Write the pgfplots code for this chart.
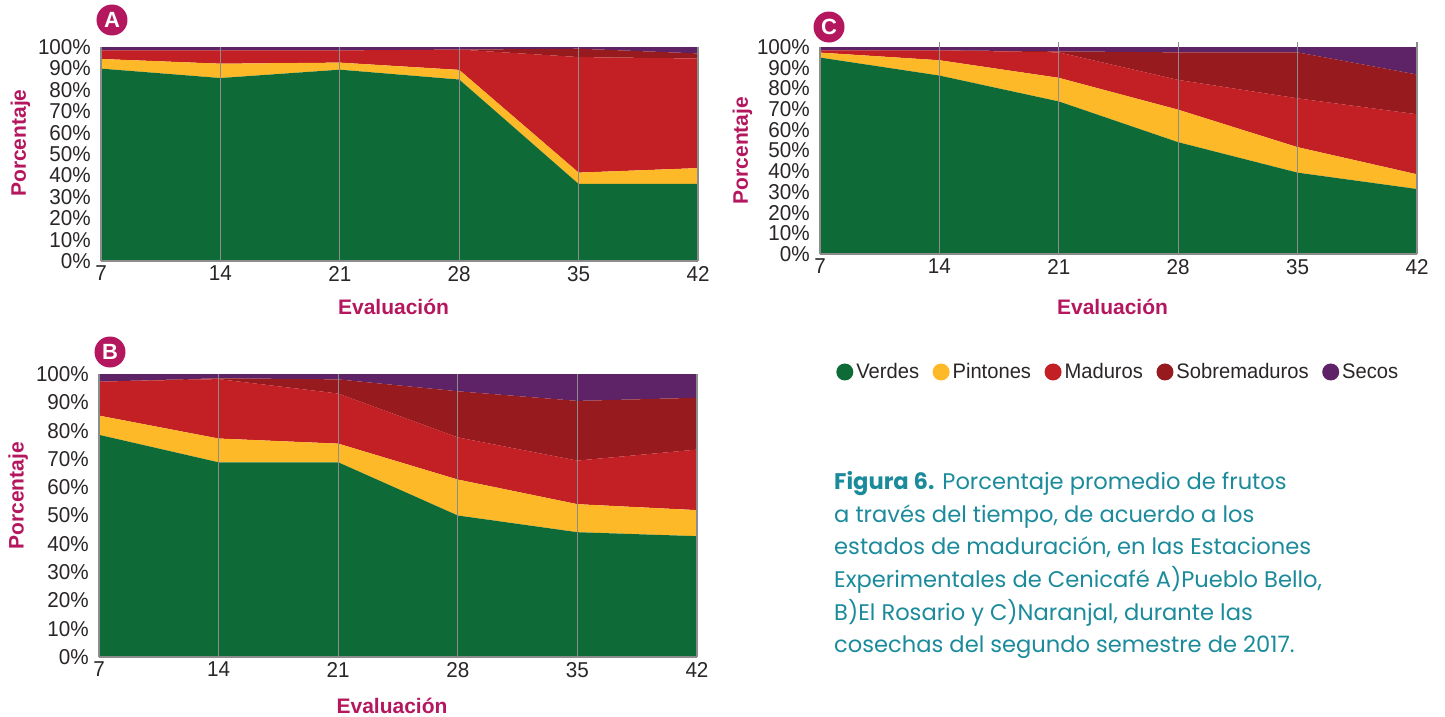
\documentclass[border=0pt]{standalone}
\usepackage{pgfplots}
\pgfplotsset{compat=1.18}
\usepackage{pgfplotstable}
\usepackage{fontspec}
\setmainfont{Liberation Sans}
\newfontfamily\tickfont{Liberation Sans}[FakeStretch=0.96]
\newfontfamily\capfont{Poppins}
\definecolor{cverde}{HTML}{0E6B38}
\definecolor{cpinton}{HTML}{FDB927}
\definecolor{cmaduro}{HTML}{C32026}
\definecolor{csobre}{HTML}{961A1E}
\definecolor{cseco}{HTML}{5D2366}
\definecolor{cmag}{HTML}{B5175F}
\definecolor{cteal}{HTML}{1B8B9B}
\definecolor{cgrid}{HTML}{8C8C8C}
\definecolor{ctick}{HTML}{2A2627}

\pgfplotstableread{
x G P M S Sec
7 89.9 4.5 4.0 0 1.6
14 85.5 6.7 6.2 0 1.6
21 89.4 3.3 5.7 0 1.6
28 84.8 4.5 9.5 0 1.2
35 36.0 5.3 54.0 3.9 0.8
42 36.0 7.4 51.2 2.4 3.0
}\tabA
\pgfplotstableread{
x G P M S Sec
7 78.5 6.8 12.0 0 2.7
14 68.8 8.4 21.0 0.3 1.5
21 68.8 6.6 17.7 5.0 1.9
28 50.0 12.7 14.9 16.3 6.1
35 44.1 9.9 15.4 21.1 9.5
42 42.7 9.2 21.4 18.3 8.4
}\tabB
\pgfplotstableread{
x G P M S Sec
7 94.9 2.4 1.1 0 1.6
14 86.2 7.4 4.8 0 1.6
21 73.7 11.4 12.3 0.5 2.1
28 54.0 15.7 14.4 13.3 2.6
35 39.3 12.3 23.6 22.2 2.6
42 31.4 7.1 29.0 19.2 13.3
}\tabC

\pgfplotsset{
  panel/.style={
    scale only axis,
    xmin=7, xmax=42, ymin=0, ymax=100,
    stack plots=y,
    axis on top,
    axis x line=bottom, axis y line=left,
    axis line style={draw=cgrid, line width=1.2pt, -},
    xtick={7,14,21,28,35,42},
    xticklabels={7,14,21,28,35,42},
    ytick={0,10,20,30,40,50,60,70,80,90,100},
    yticklabels={0\%,10\%,20\%,30\%,40\%,50\%,60\%,70\%,80\%,90\%,100\%},
    xmajorgrids, major grid style={draw=cgrid, line width=1.2pt},
    major tick length=0pt,
    tick label style={font=\tickfont\fontsize{21.5}{21.5}\selectfont, text=ctick},
    yticklabel style={inner sep=2pt, xshift=-8pt},
    xticklabel style={inner sep=2pt, yshift=-3pt},
    xlabel={Evaluación}, ylabel={Porcentaje},
    label style={font=\bfseries\fontsize{21}{21}\selectfont, text=cmag},
    legend image code/.code={\fill[##1] (0pt,0pt) circle (8.5pt);},
    clip=false,
  },
}
\tikzset{
  tag/.style={circle, fill=cmag, text=white, inner sep=0pt, minimum size=31pt,
    font=\bfseries\fontsize{22}{22}\selectfont},
}

\begin{document}
\begin{tikzpicture}[x=1pt,y=1pt]
\path[use as bounding box] (0,0) rectangle (1445,-717);

% Panel A
\begin{axis}[panel, at={(101pt,-261pt)}, anchor=south west, width=597pt, height=214pt,
  xlabel style={at={(rel axis cs:0.49,-0.215)}, anchor=center},
  ylabel style={at={(rel axis cs:-0.135,0.551)}, anchor=center}]
\addplot[fill=cverde, draw=none] table[x=x,y=G] {\tabA} \closedcycle;
\addplot[fill=cpinton, draw=none] table[x=x,y=P] {\tabA} \closedcycle;
\addplot[fill=cmaduro, draw=none] table[x=x,y=M] {\tabA} \closedcycle;
\addplot[fill=csobre, draw=none] table[x=x,y=S] {\tabA} \closedcycle;
\addplot[fill=cseco, draw=none] table[x=x,y=Sec] {\tabA} \closedcycle;
\node[tag] at (rel axis cs:0,1) [xshift=11pt, yshift=27pt] {A};
\end{axis}

% Panel B
\begin{axis}[panel, at={(99pt,-657pt)}, anchor=south west, width=598pt, height=283pt,
  xlabel style={at={(rel axis cs:0.49,-0.173)}, anchor=center},
  ylabel style={at={(rel axis cs:-0.135,0.57)}, anchor=center}]
\addplot[fill=cverde, draw=none] table[x=x,y=G] {\tabB} \closedcycle;
\addplot[fill=cpinton, draw=none] table[x=x,y=P] {\tabB} \closedcycle;
\addplot[fill=cmaduro, draw=none] table[x=x,y=M] {\tabB} \closedcycle;
\addplot[fill=csobre, draw=none] table[x=x,y=S] {\tabB} \closedcycle;
\addplot[fill=cseco, draw=none] table[x=x,y=Sec] {\tabB} \closedcycle;
\node[tag] at (rel axis cs:0,1) [xshift=11pt, yshift=22pt] {B};
\end{axis}

% Panel C
\begin{axis}[panel, at={(820pt,-254pt)}, anchor=south west, width=597pt, height=207pt,
  xlabel style={at={(rel axis cs:0.49,-0.256)}, anchor=center},
  ylabel style={at={(rel axis cs:-0.13,0.5)}, anchor=center},
  legend columns=5,
  legend style={at={(0.022,-0.57)}, anchor=west, draw=none, fill=none,
    font=\tickfont\fontsize{21}{21}\selectfont, text=ctick,
    /tikz/every odd column/.append style={column sep=1pt},
    /tikz/every even column/.append style={column sep=11.5pt}}]
\addplot[fill=cverde, draw=none] table[x=x,y=G] {\tabC} \closedcycle;
\addlegendentry{Verdes}
\addplot[fill=cpinton, draw=none] table[x=x,y=P] {\tabC} \closedcycle;
\addlegendentry{Pintones}
\addplot[fill=cmaduro, draw=none] table[x=x,y=M] {\tabC} \closedcycle;
\addlegendentry{Maduros}
\addplot[fill=csobre, draw=none] table[x=x,y=S] {\tabC} \closedcycle;
\addlegendentry{Sobremaduros}
\addplot[fill=cseco, draw=none] table[x=x,y=Sec] {\tabC} \closedcycle;
\addlegendentry{Secos}
\foreach \g in {14,21,28,35,42} {
  \edef\tmp{\noexpand\draw[cgrid, line width=1.2pt] (axis cs:\g,100) -- ++(0pt,5pt);}
  \tmp
}
\node[tag] at (rel axis cs:0,1) [xshift=9pt, yshift=20pt] {C};
\end{axis}

% Caption
\begin{scope}[every node/.style={anchor=base west, inner sep=0pt, text=cteal,
   font=\capfont\fontsize{22.6}{22.6}\selectfont}]
\node at (834,-489) {\textbf{Figura 6.} Porcentaje promedio de frutos};
\node at (834,-522) {a través del tiempo, de acuerdo a los};
\node at (834,-554) {estados de maduración, en las Estaciones};
\node at (834,-587) {Experimentales de Cenicafé A)Pueblo Bello,};
\node at (834,-620) {B)El Rosario y C)Naranjal, durante las};
\node at (834,-652) {cosechas del segundo semestre de 2017.};
\end{scope}
\end{tikzpicture}
\end{document}
